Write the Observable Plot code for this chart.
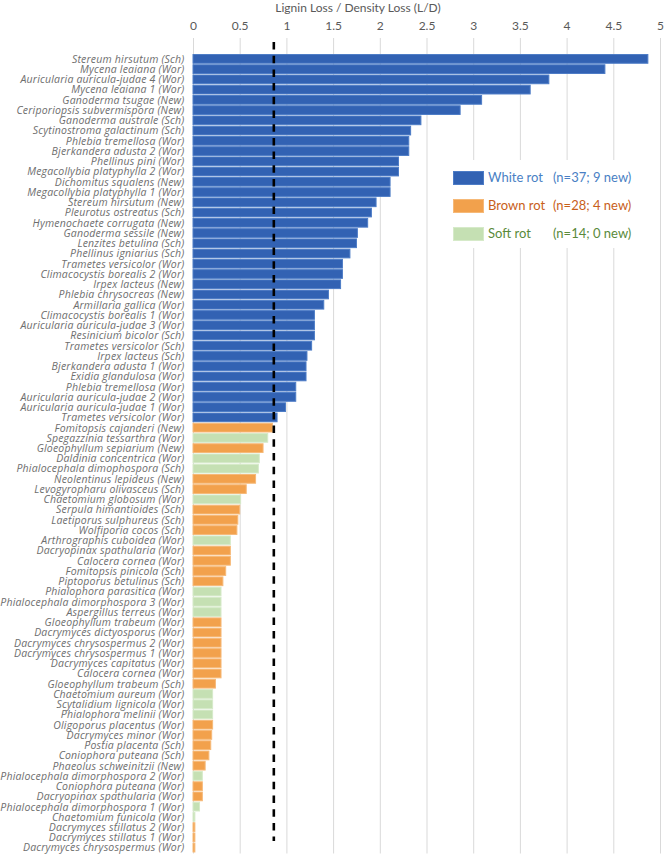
<!DOCTYPE html>
<html><head><meta charset="utf-8">
<script src="https://cdn.jsdelivr.net/npm/d3@7"></script>
<script src="https://cdn.jsdelivr.net/npm/@observablehq/plot@0.6"></script>
<style>
body{margin:0;background:#fff;}
#wrap{position:relative;width:666px;height:855px;font-family:Lato,"Open Sans",sans-serif;}
#title{position:absolute;left:238px;width:240px;top:1px;line-height:13px;text-align:center;font-size:12px;color:#595959;}
#legend{position:absolute;left:445px;top:160px;width:207px;height:88px;background:#fff;}
.lrow{position:absolute;left:0;height:14px;font-size:13px;line-height:14px;}
.sw{position:absolute;left:8px;top:1px;width:29px;height:12px;}
.ln{position:absolute;left:43px;top:0;white-space:nowrap;}
.lc{position:absolute;left:108px;top:0;white-space:nowrap;}
g[aria-label="y-axis tick label"] text{font-style:italic;letter-spacing:0.2px;}
</style></head>
<body><div id="wrap"><div id="title"></div></div>
<script>
const labels = [
"Stereum hirsutum (Sch)","Mycena leaiana (Wor)","Auricularia auricula-judae 4 (Wor)","Mycena leaiana 1 (Wor)",
"Ganoderma tsugae (New)","Ceriporiopsis subvermispora (New)","Ganoderma australe (Sch)","Scytinostroma galactinum (Sch)",
"Phlebia tremellosa (Wor)","Bjerkandera adusta 2 (Wor)","Phellinus pini (Wor)","Megacollybia platyphylla 2 (Wor)",
"Dichomitus squalens (New)","Megacollybia platyphylla 1 (Wor)","Stereum hirsutum (New)","Pleurotus ostreatus (Sch)",
"Hymenochaete corrugata (New)","Ganoderma sessile (New)","Lenzites betulina (Sch)","Phellinus igniarius (Sch)",
"Trametes versicolor (Wor)","Climacocystis borealis 2 (Wor)","Irpex lacteus (New)","Phlebia chrysocreas (New)",
"Armillaria gallica (Wor)","Climacocystis borealis 1 (Wor)","Auricularia auricula-judae 3 (Wor)","Resinicium bicolor (Sch)",
"Trametes versicolor (Sch)","Irpex lacteus (Sch)","Bjerkandera adusta 1 (Wor)","Exidia glandulosa (Wor)",
"Phlebia tremellosa (Wor)","Auricularia auricula-judae 2 (Wor)","Auricularia auricula-judae 1 (Wor)","Trametes versicolor (Wor)",
"Fomitopsis cajanderi (New)","Spegazzinia tessarthra (Wor)","Gloeophyllum sepiarium (New)","Daldinia concentrica (Wor)",
"Phialocephala dimophospora (Sch)","Neolentinus lepideus (New)","Levogyropharu olivasceus (Sch)","Chaetomium globosum (Wor)",
"Serpula himantioides (Sch)","Laetiporus sulphureus (Sch)","Wolfiporia cocos (Sch)","Arthrographis cuboidea (Wor)",
"Dacryopinax spathularia (Wor)","Calocera cornea (Wor)","Fomitopsis pinicola (Sch)","Piptoporus betulinus (Sch)",
"Phialophora parasitica (Wor)","Phialocephala dimorphospora 3 (Wor)","Aspergillus terreus (Wor)","Gloeophyllum trabeum (Wor)",
"Dacrymyces dictyosporus (Wor)","Dacrymyces chrysospermus 2 (Wor)","Dacrymyces chrysospermus 1 (Wor)","Dacrymyces capitatus (Wor)",
"Calocera cornea (Wor)","Gloeophyllum trabeum (Sch)","Chaetomium aureum (Wor)","Scytalidium lignicola (Wor)",
"Phialophora melinii (Wor)","Oligoporus placentus (Wor)","Dacrymyces minor (Wor)","Postia placenta (Sch)",
"Coniophora puteana (Sch)","Phaeolus schweinitzii (New)","Phialocephala dimorphospora 2 (Wor)","Coniophora puteana (Wor)",
"Dacryopinax spathularia (Wor)","Phialocephala dimorphospora 1 (Wor)","Chaetomium funicola (Wor)","Dacrymyces stillatus 2 (Wor)",
"Dacrymyces stillatus 1 (Wor)","Dacrymyces chrysospermus (Wor)"
];
const values = [
4.87,4.41,3.81,3.61,3.09,2.86,2.44,2.33,2.31,2.31,2.20,2.20,2.11,2.11,1.96,1.91,1.87,1.76,1.75,1.68,
1.60,1.60,1.58,1.45,1.40,1.30,1.30,1.30,1.27,1.22,1.21,1.21,1.10,1.10,0.99,0.90,
0.85,0.80,0.75,0.71,0.70,0.67,0.57,0.51,0.50,0.48,0.47,0.40,0.40,0.40,0.35,0.32,0.30,0.30,0.30,0.30,
0.30,0.30,0.30,0.30,0.30,0.24,0.21,0.21,0.21,0.21,0.20,0.19,0.17,0.13,0.10,0.10,0.10,0.07,0.02,0.02,0.02,0.02
];
const types = [
"W","W","W","W","W","W","W","W","W","W","W","W","W","W","W","W","W","W","W","W",
"W","W","W","W","W","W","W","W","W","W","W","W","W","W","W","W",
"B","S","B","S","S","B","B","S","B","B","B","S","B","B","B","B","S","S","S","B",
"B","B","B","B","B","B","S","S","S","B","B","B","B","B","S","B","B","S","S","B","B","B"
];
const threshold = 0.86;
const xTicks = [0,0.5,1,1.5,2,2.5,3,3.5,4,4.5,5];
const typeKeys = ["W","B","S"];
const typeFill = ["#3262b3","#f2a14c","#c5e0b3"];
const typeStroke = ["#4d7cc6","#f6b978","#d6eac9"];
const legendNames = ["White rot","Brown rot","Soft rot"];
const legendCounts = ["(n=37; 9 new)","(n=28; 4 new)","(n=14; 0 new)"];
const legendText = ["#4a7fc4","#c8601a","#5a8a3a"];
const titleText = "Lignin Loss / Density Loss (L/D)";

const data = values.map((v,i)=>({i, v, t: types[i]}));
const fillOf = t => typeFill[typeKeys.indexOf(t)];
const strokeOf = t => typeStroke[typeKeys.indexOf(t)];

const chart = Plot.plot({
  width: 666, height: 855,
  marginLeft: 193, marginRight: 6, marginTop: 53, marginBottom: 1.5,
  style: {fontFamily: "Lato, 'Open Sans', sans-serif", background: "#fff"},
  x: {domain: [0,5], axis: null},
  y: {domain: d3.range(labels.length), padding: 0.15, round: false, axis: null},
  marks: [
    Plot.ruleX(xTicks, {stroke: "#d9d9d9", strokeWidth: 1, insetTop: -15}),
    Plot.barX(data, {x: "v", y: "i", fill: d => fillOf(d.t), stroke: d => strokeOf(d.t), strokeWidth: 1}),
    Plot.ruleX([threshold], {stroke: "#000", strokeWidth: 2.6, strokeDasharray: "7.5,6.2", insetTop: -11, insetBottom: 12.5}),
    Plot.axisX({anchor: "top", ticks: xTicks, tickSize: 0, tickPadding: 24, tickFormat: d => String(d), fontSize: 12, color: "#595959", label: null}),
    Plot.axisY({anchor: "left", tickSize: 0, tickPadding: 9, tickFormat: i => labels[i], fontSize: 10.5, fontFamily: "'Open Sans', sans-serif", color: "#6e6e6e", label: null})
  ]
});
const wrap = document.getElementById("wrap");
wrap.insertBefore(chart, wrap.firstChild);
document.getElementById("title").textContent = titleText;
const leg = document.createElement("div");
leg.id = "legend";
const rowTops = [10, 37.5, 66];
legendNames.forEach((n,k)=>{
  const r = document.createElement("div");
  r.className = "lrow"; r.style.top = rowTops[k] + "px"; r.style.width = "207px";
  r.innerHTML = `<div class="sw" style="background:${typeFill[k]};border:0.5px solid ${typeStroke[k]}"></div><span class="ln" style="color:${legendText[k]}">${n}</span><span class="lc" style="color:${legendText[k]}">${legendCounts[k]}</span>`;
  leg.appendChild(r);
});
wrap.appendChild(leg);
</script></body></html>
